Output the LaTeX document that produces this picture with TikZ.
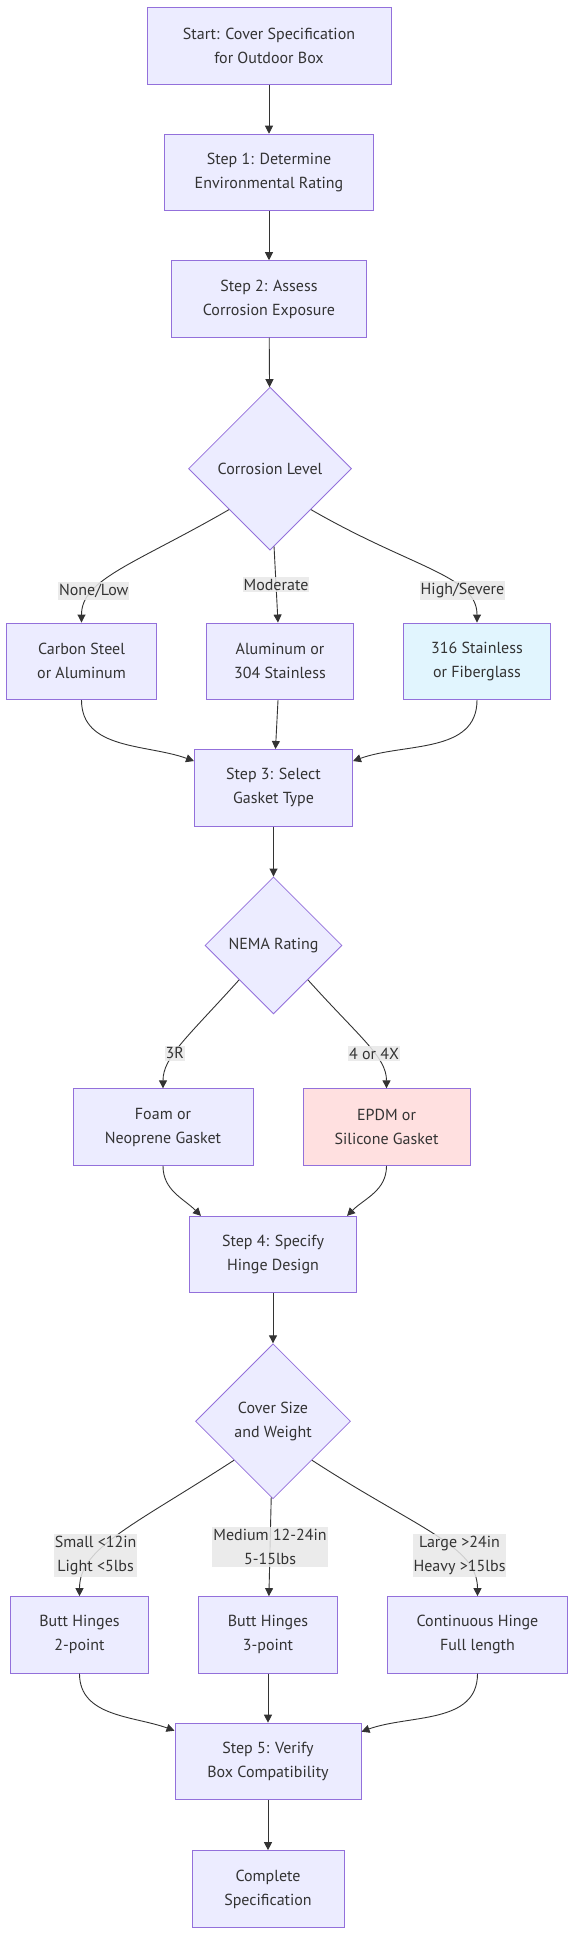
\documentclass[tikz,border=0pt]{standalone}
\usepackage{fontspec}
\setmainfont{PT Sans}
\usetikzlibrary{positioning, arrows.meta, shapes.geometric}

\definecolor{nodefill}{HTML}{ECECFF}
\definecolor{nodeline}{HTML}{9370DB}
\definecolor{edgeline}{HTML}{333333}
\definecolor{lblfill}{HTML}{E8E8E8}
\definecolor{bluefill}{HTML}{E1F5FE}
\definecolor{redfill}{HTML}{FFE0E0}

\begin{document}
\begin{tikzpicture}[
  box/.style={rectangle, draw=nodeline, fill=nodefill, line width=1pt, minimum height=76.5pt, align=center, text=edgeline, font=\fontsize{16}{24}\selectfont},
  decision/.style={diamond, aspect=1, draw=nodeline, fill=nodefill, line width=0.8pt, inner sep=0pt, align=center, text=edgeline, font=\fontsize{16}{24}\selectfont},
  lbl/.style={fill=lblfill, fill opacity=0.85, text opacity=1, inner xsep=1pt, inner ysep=2pt, align=center, text=edgeline, font=\fontsize{16}{24}\selectfont},
  rel/.style={-{Triangle[length=8pt, width=8pt]}, draw=edgeline, line width=0.9pt},
  branch/.style={out looseness=1.5, in looseness=0.6},
  node distance=49pt
]
\useasboundingbox (0,0) rectangle (583pt,-1958pt);

% ======================
% START
% ======================
\node[box, minimum width=244pt] (start) at (269pt,-46pt) {Start: Cover Specification\\for Outdoor Box};

\node[box, minimum width=209pt, below=of start] (step1) {Step 1: Determine\\Environmental Rating};

\node[box, minimum width=195pt, below=of step1] (step2) {Step 2: Assess\\Corrosion Exposure};

% ======================
% MATERIAL
% ======================
\node[decision, minimum size=163pt, below=49pt of step2, xshift=1pt] (corrosion) {Corrosion Level};

\node[box, minimum width=147pt, below=72pt of corrosion, xshift=10pt] (aluminum) {Aluminum or\\304 Stainless};

\node[box, minimum width=150pt, left=of aluminum] (carbon) {Carbon Steel\\or Aluminum};

\node[box, fill=bluefill, minimum width=147pt, right=of aluminum] (stainless) {316 Stainless\\or Fiberglass};

% ======================
% GASKET
% ======================
\node[box, minimum width=158pt, below=of aluminum, xshift=-6.5pt] (step3) {Step 3: Select\\Gasket Type};

\node[decision, minimum size=137pt, below=50pt of step3] (nema) {NEMA Rating};

\node[box, minimum width=180pt, below=74pt of nema, xshift=-110.5pt] (foam) {Foam or\\Neoprene Gasket};

\node[box, fill=redfill, minimum width=167pt, right=of foam] (epdm) {EPDM or\\Silicone Gasket};

% ======================
% HINGES
% ======================
\node[box, minimum width=167pt, below=50pt of foam, xshift=110pt] (step4) {Step 4: Specify\\Hinge Design};

\node[decision, minimum size=155pt, below=50pt of step4] (size) {Cover Size\\and Weight};

\node[box, minimum width=139pt, below=97pt of size, xshift=-5pt] (butt3) {Butt Hinges\\3-point};

\node[box, minimum width=138pt, left=of butt3] (butt2) {Butt Hinges\\2-point};

\node[box, minimum width=180pt, right=of butt3] (continuous) {Continuous Hinge\\Full length};

% ======================
% FINISH
% ======================
\node[box, minimum width=186pt, below=of butt3] (step5) {Step 5: Verify\\Box Compatibility};

\node[box, minimum width=152pt, below=50pt of step5] (complete) {Complete\\Specification};

% ======================
% CONNECTIONS
% ======================
\draw[rel] (start) -- (step1);
\draw[rel] (step1) -- (step2);
\draw[rel] (step2) -- (corrosion);

\draw[rel] (corrosion.south west) to[out=-150, in=90, branch] node[lbl, pos=0.72] {None/Low} (carbon.north);
\draw[rel] (corrosion) -- node[lbl, pos=0.5] {Moderate} (aluminum);
\draw[rel] (corrosion.south east) to[out=-30, in=90, branch] node[lbl, pos=0.72] {High/Severe} (stainless.north);

\draw[rel] (carbon.south) to[out=-90, in=160] ([yshift=-12pt]step3.north west);
\draw[rel] (aluminum) -- (step3);
\draw[rel] (stainless.south) to[out=-90, in=20] ([yshift=-12pt]step3.north east);

\draw[rel] (step3) -- (nema);
\draw[rel] (nema.south west) to[out=-132, in=90, branch] node[lbl, pos=0.6] {3R} (foam.north);
\draw[rel] (nema.south east) to[out=-48, in=90, branch] node[lbl, pos=0.6] {4 or 4X} (epdm.north);

\draw[rel] (foam.south) to[out=-90, in=135] ([xshift=12pt]step4.north west);
\draw[rel] (epdm.south) to[out=-90, in=45] ([xshift=-10pt]step4.north east);

\draw[rel] (step4) -- (size);
\draw[rel] (size.south west) to[out=-147, in=90, branch] node[lbl, pos=0.68] {Small <12in\\Light <5lbs} (butt2.north);
\draw[rel] (size) -- node[lbl, pos=0.5] {Medium 12-24in\\5-15lbs} (butt3);
\draw[rel] (size.south east) to[out=-33, in=90, branch] node[lbl, pos=0.68] {Large >24in\\Heavy >15lbs} (continuous.north);

\draw[rel] (butt2.south) to[out=-90, in=160] ([yshift=-8pt]step5.north west);
\draw[rel] (butt3) -- (step5);
\draw[rel] (continuous.south) to[out=-90, in=20] ([yshift=-9pt]step5.north east);

\draw[rel] (step5) -- (complete);

\end{tikzpicture}
\end{document}
